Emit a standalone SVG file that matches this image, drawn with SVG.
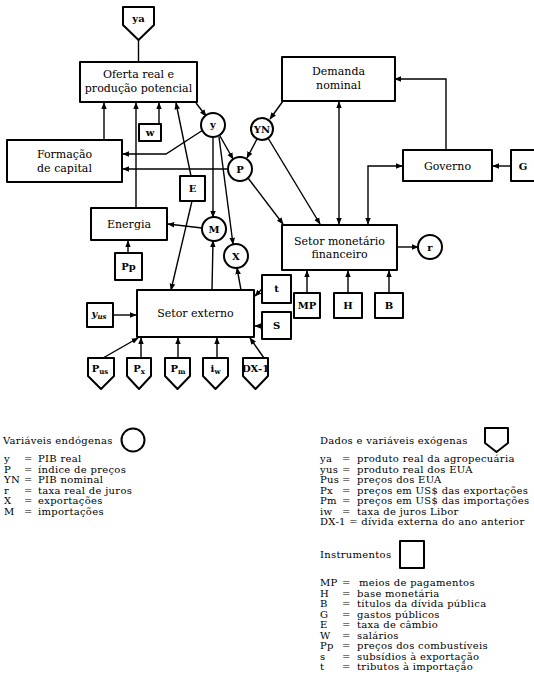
<svg xmlns="http://www.w3.org/2000/svg" width="534" height="699" viewBox="0 0 534 699">
<defs>
<marker id="ah" viewBox="0 0 10 10" refX="9" refY="5" markerWidth="7" markerHeight="7" orient="auto-start-reverse" markerUnits="userSpaceOnUse">
<path d="M0,1 L10,5 L0,9 Z" fill="#000"/>
</marker>
<style>
.box{fill:#fff;stroke:#000;stroke-width:2;stroke-linejoin:round}
.circ{fill:#fff;stroke:#000;stroke-width:2}
.con{fill:none;stroke:#000;stroke-width:1.4}
text{font-family:"DejaVu Serif","Liberation Serif",serif;fill:#000}
.lbl{font-size:11px;text-anchor:middle}
.var{font-size:10px;font-weight:bold;text-anchor:middle}
.leg{font-size:10px;letter-spacing:0.3px}
.sub{font-size:7px}
</style>
</defs>
<rect width="534" height="699" fill="#fff"/>

<g id="connectors">
<line class="con" x1="138.5" y1="40" x2="138.5" y2="62"/>
<line class="con" x1="104" y1="140" x2="104" y2="103" marker-end="url(#ah)"/>
<line class="con" x1="136" y1="208" x2="136" y2="103" marker-end="url(#ah)"/>
<line class="con" x1="159" y1="124" x2="159" y2="103" marker-end="url(#ah)"/>
<line class="con" x1="191" y1="176" x2="176" y2="103" marker-end="url(#ah)"/>
<line class="con" x1="196" y1="103" x2="206" y2="116" marker-end="url(#ah)"/>
<path class="con" d="M203,130 L166,154 L123,154" marker-end="url(#ah)"/>
<line class="con" x1="228" y1="169" x2="123" y2="169" marker-end="url(#ah)"/>
<line class="con" x1="220" y1="136" x2="233" y2="159" marker-end="url(#ah)"/>
<line class="con" x1="257" y1="139" x2="247" y2="158" marker-end="url(#ah)"/>
<line class="con" x1="283" y1="101" x2="270" y2="119" marker-end="url(#ah)"/>
<line class="con" x1="268" y1="138" x2="320" y2="224" marker-end="url(#ah)"/>
<line class="con" x1="248" y1="178" x2="283" y2="224" marker-end="url(#ah)"/>
<line class="con" x1="339" y1="102" x2="339" y2="224" marker-start="url(#ah)" marker-end="url(#ah)"/>
<path class="con" d="M402,166 L368,166 L368,224" marker-start="url(#ah)" marker-end="url(#ah)"/>
<path class="con" d="M446,150 L446,79 L395,79" marker-end="url(#ah)"/>
<line class="con" x1="510" y1="166" x2="493" y2="166" marker-end="url(#ah)"/>
<line class="con" x1="397" y1="247" x2="418" y2="247" marker-end="url(#ah)"/>
<line class="con" x1="213" y1="137" x2="213" y2="217" marker-end="url(#ah)"/>
<line class="con" x1="219" y1="137" x2="233" y2="244" marker-end="url(#ah)"/>
<line class="con" x1="202" y1="228" x2="168" y2="224" marker-end="url(#ah)"/>
<line class="con" x1="128" y1="253" x2="128" y2="241" marker-end="url(#ah)"/>
<line class="con" x1="192" y1="201" x2="171" y2="290" marker-end="url(#ah)"/>
<line class="con" x1="212" y1="290" x2="213" y2="241" marker-end="url(#ah)"/>
<line class="con" x1="241" y1="290" x2="237" y2="268" marker-end="url(#ah)"/>
<line class="con" x1="113" y1="315" x2="136" y2="315" marker-end="url(#ah)"/>
<line class="con" x1="262" y1="289" x2="255" y2="296" marker-end="url(#ah)"/>
<line class="con" x1="262" y1="326" x2="255" y2="326" marker-end="url(#ah)"/>
<line class="con" x1="307" y1="293" x2="307" y2="271" marker-end="url(#ah)"/>
<line class="con" x1="348" y1="293" x2="348" y2="271" marker-end="url(#ah)"/>
<line class="con" x1="389" y1="293" x2="389" y2="271" marker-end="url(#ah)"/>
<line class="con" x1="103" y1="358" x2="138" y2="338" marker-end="url(#ah)"/>
<line class="con" x1="141" y1="358" x2="141" y2="338" marker-end="url(#ah)"/>
<line class="con" x1="178" y1="358" x2="178" y2="338" marker-end="url(#ah)"/>
<line class="con" x1="217" y1="358" x2="217" y2="338" marker-end="url(#ah)"/>
<line class="con" x1="264" y1="358" x2="250" y2="338" marker-end="url(#ah)"/>
</g>

<g id="ya"><path class="box" d="M123,7 H154 V25 L138.5,40 L123,25 Z"/><text class="var" x="138.5" y="22">ya</text></g>
<g id="oferta"><rect class="box" x="80" y="62" width="117" height="40"/><text class="lbl" x="138.5" y="78">Oferta real e</text><text class="lbl" x="138.5" y="92">produção potencial</text></g>
<g id="demanda"><rect class="box" x="282" y="57" width="113" height="44"/><text class="lbl" x="338.5" y="75">Demanda</text><text class="lbl" x="338.5" y="89">nominal</text></g>
<g id="w"><rect class="box" x="139" y="124" width="22" height="17"/><text class="var" x="150" y="136">w</text></g>
<g id="y"><circle class="circ" cx="213" cy="125" r="12"/><text class="var" x="213" y="128">y</text></g>
<g id="YN"><circle class="circ" cx="262" cy="129" r="11"/><text class="var" x="262" y="132.5" font-size="9">YN</text></g>
<g id="formacao"><rect class="box" x="7" y="140" width="115" height="42"/><text class="lbl" x="64.5" y="158">Formação</text><text class="lbl" x="64.5" y="172">de capital</text></g>
<g id="P"><circle class="circ" cx="240" cy="169" r="12"/><text class="var" x="240" y="172.5">P</text></g>
<g id="governo"><rect class="box" x="403" y="150" width="89" height="31"/><text class="lbl" x="447.5" y="169.5">Governo</text></g>
<g id="G"><rect class="box" x="511" y="150" width="24" height="31"/><text class="var" x="523" y="169.5">G</text></g>
<g id="E"><rect class="box" x="180" y="176" width="25" height="25"/><text class="var" x="192.5" y="192">E</text></g>
<g id="energia"><rect class="box" x="91" y="208" width="76" height="32"/><text class="lbl" x="129" y="228">Energia</text></g>
<g id="M"><circle class="circ" cx="214" cy="229" r="12"/><text class="var" x="214" y="232.5">M</text></g>
<g id="X"><circle class="circ" cx="236" cy="256" r="12"/><text class="var" x="236" y="259.5">X</text></g>
<g id="monetario"><rect class="box" x="282" y="225" width="115" height="45"/><text class="lbl" x="339.5" y="245">Setor monetário</text><text class="lbl" x="339.5" y="258">financeiro</text></g>
<g id="r"><circle class="circ" cx="430" cy="247" r="12"/><text class="var" x="430" y="250.5">r</text></g>
<g id="Pp"><rect class="box" x="115" y="253" width="27" height="27"/><text class="var" x="128.5" y="270">Pp</text></g>
<g id="t"><rect class="box" x="262" y="275" width="29" height="28"/><text class="var" x="276.5" y="292">t</text></g>
<g id="MP"><rect class="box" x="294" y="293" width="26" height="25"/><text class="var" x="307" y="309" font-size="9">MP</text></g>
<g id="H"><rect class="box" x="334" y="293" width="28" height="25"/><text class="var" x="348" y="309">H</text></g>
<g id="B"><rect class="box" x="375" y="293" width="28" height="25"/><text class="var" x="389" y="309">B</text></g>
<g id="externo"><rect class="box" x="137" y="290" width="117" height="47"/><text class="lbl" x="195.5" y="317">Setor externo</text></g>
<g id="yus"><rect class="box" x="87" y="303" width="26" height="24"/><text class="var" x="99" y="317" font-style="italic">y<tspan class="sub" dy="2">us</tspan></text></g>
<g id="S"><rect class="box" x="262" y="312" width="29" height="27"/><text class="var" x="276.5" y="329">S</text></g>
<g id="Pus"><path class="box" d="M88,358 H114 V376 L101,389 L88,376 Z"/><text class="var" x="100" y="372">P<tspan class="sub" dy="2">us</tspan></text></g>
<g id="Px"><path class="box" d="M127,358 H151 V376 L139,389 L127,376 Z"/><text class="var" x="139" y="372">P<tspan class="sub" dy="2">x</tspan></text></g>
<g id="Pm"><path class="box" d="M165,358 H190 V376 L177.5,389 L165,376 Z"/><text class="var" x="178" y="372">P<tspan class="sub" dy="2">m</tspan></text></g>
<g id="iw"><path class="box" d="M203,358 H228 V376 L215.5,389 L203,376 Z"/><text class="var" x="215.5" y="372">i<tspan class="sub" dy="2">w</tspan></text></g>
<g id="DX1"><path class="box" d="M243,358 H268 V376 L255.5,389 L243,376 Z"/><text class="var" x="255.5" y="372" font-size="8.5">DX-1</text></g>

<g id="legend-endogenas">
<text class="leg" x="3" y="444">Variáveis endógenas</text>
<circle class="circ" cx="133" cy="440" r="11.5"/>
<text class="leg" x="4" y="462">y</text><text class="leg" x="24" y="462">=</text><text class="leg" x="38" y="462">PIB real</text>
<text class="leg" x="4" y="472.5">P</text><text class="leg" x="24" y="472.5">=</text><text class="leg" x="38" y="472.5">índice de preços</text>
<text class="leg" x="4" y="483">YN</text><text class="leg" x="24" y="483">=</text><text class="leg" x="38" y="483">PIB nominal</text>
<text class="leg" x="4" y="493.5">r</text><text class="leg" x="24" y="493.5">=</text><text class="leg" x="38" y="493.5">taxa real de juros</text>
<text class="leg" x="4" y="504">X</text><text class="leg" x="24" y="504">=</text><text class="leg" x="38" y="504">exportações</text>
<text class="leg" x="4" y="514.5">M</text><text class="leg" x="24" y="514.5">=</text><text class="leg" x="38" y="514.5">importações</text>
</g>

<g id="legend-exogenas">
<text class="leg" x="320" y="444">Dados e variáveis exógenas</text>
<path class="box" d="M485,428 H508 V443 L496.5,452 L485,443 Z"/>
<text class="leg" x="320" y="462">ya</text><text class="leg" x="342" y="462">=</text><text class="leg" x="357" y="462">produto real da agropecuária</text>
<text class="leg" x="320" y="472.5">yus</text><text class="leg" x="342" y="472.5">=</text><text class="leg" x="357" y="472.5">produto real dos EUA</text>
<text class="leg" x="320" y="483">Pus</text><text class="leg" x="342" y="483">=</text><text class="leg" x="357" y="483">preços dos EUA</text>
<text class="leg" x="320" y="493.5">Px</text><text class="leg" x="342" y="493.5">=</text><text class="leg" x="357" y="493.5">preços em US$ das exportações</text>
<text class="leg" x="320" y="504">Pm</text><text class="leg" x="342" y="504">=</text><text class="leg" x="357" y="504">preços em US$ das importações</text>
<text class="leg" x="320" y="514.5">iw</text><text class="leg" x="342" y="514.5">=</text><text class="leg" x="357" y="514.5">taxa de juros Libor</text>
<text class="leg" x="320" y="525">DX-1 = dívida externa do ano anterior</text>
</g>

<g id="legend-instrumentos">
<text class="leg" x="320" y="558">Instrumentos</text>
<rect class="box" x="400" y="541" width="24" height="27"/>
<text class="leg" x="320" y="586">MP</text><text class="leg" x="342" y="586">=</text><text class="leg" x="359" y="586">meios de pagamentos</text>
<text class="leg" x="320" y="596.5">H</text><text class="leg" x="342" y="596.5">=</text><text class="leg" x="357" y="596.5">base monetária</text>
<text class="leg" x="320" y="607">B</text><text class="leg" x="342" y="607">=</text><text class="leg" x="357" y="607">títulos da dívida pública</text>
<text class="leg" x="320" y="617.5">G</text><text class="leg" x="342" y="617.5">=</text><text class="leg" x="357" y="617.5">gastos públicos</text>
<text class="leg" x="320" y="628">E</text><text class="leg" x="342" y="628">=</text><text class="leg" x="357" y="628">taxa de câmbio</text>
<text class="leg" x="320" y="638.5">W</text><text class="leg" x="342" y="638.5">=</text><text class="leg" x="357" y="638.5">salários</text>
<text class="leg" x="320" y="649">Pp</text><text class="leg" x="342" y="649">=</text><text class="leg" x="357" y="649">preços dos combustíveis</text>
<text class="leg" x="320" y="659.5">s</text><text class="leg" x="342" y="659.5">=</text><text class="leg" x="357" y="659.5">subsídios à exportação</text>
<text class="leg" x="320" y="670">t</text><text class="leg" x="342" y="670">=</text><text class="leg" x="357" y="670">tributos à importação</text>
</g>
</svg>
